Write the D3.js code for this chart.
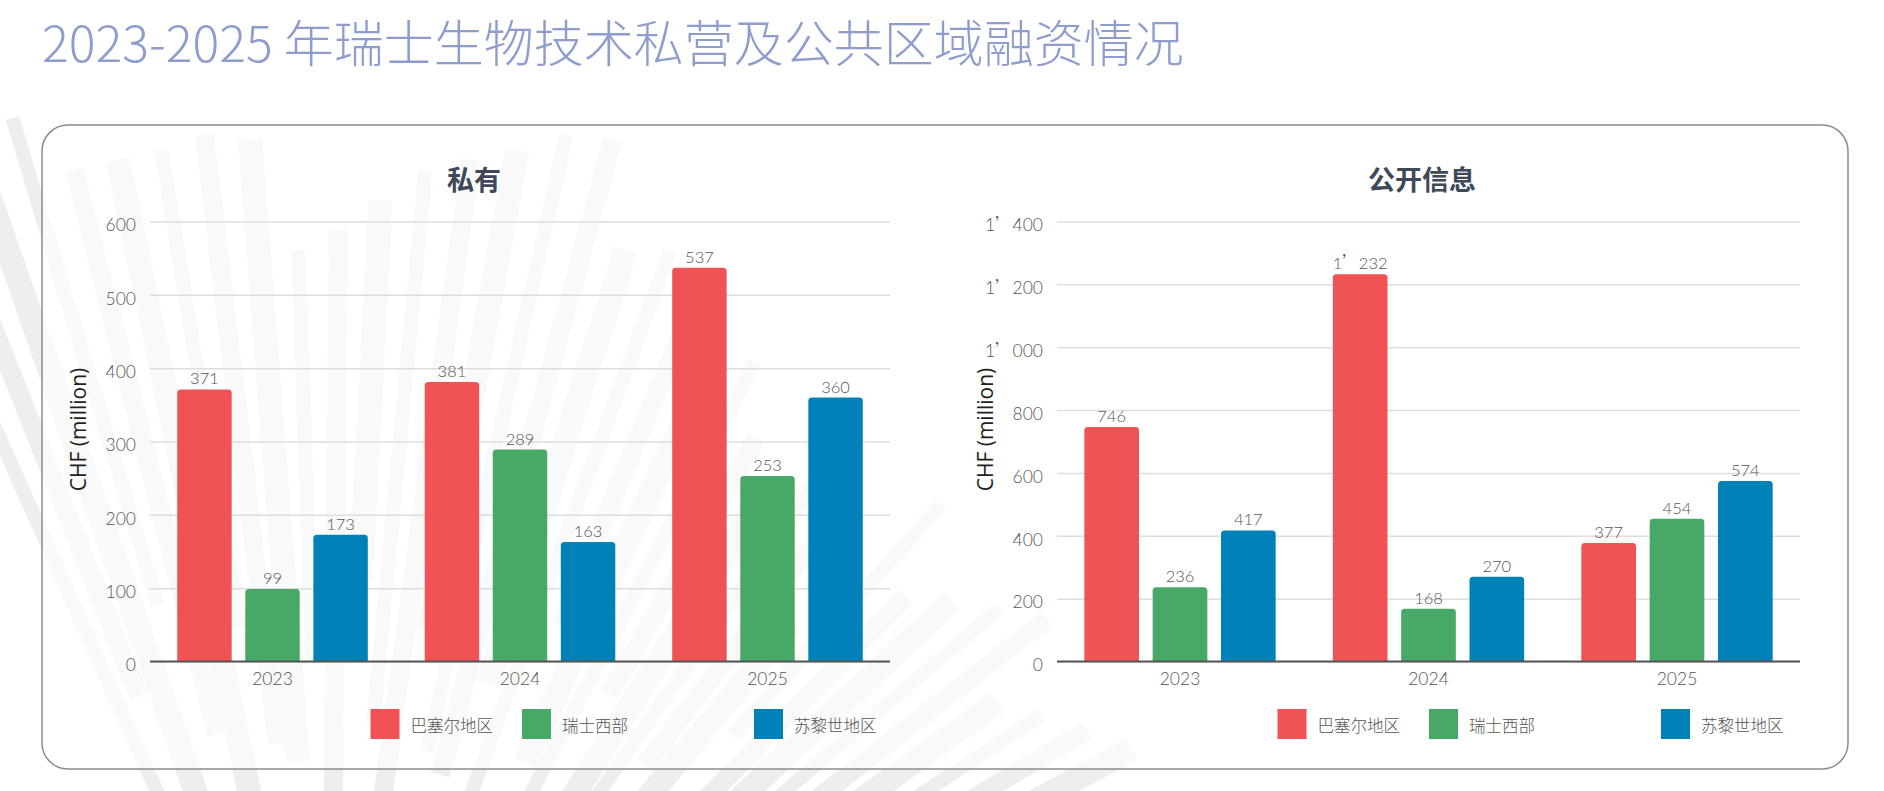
<!DOCTYPE html>
<html>
<head>
<meta charset="utf-8">
<script src="https://cdn.jsdelivr.net/npm/d3@7"></script>
<style>
  html, body { margin: 0; padding: 0; background: #fff; }
  svg { display: block; }
</style>
</head>
<body>
<div id="chart"></div>
<script>
// Swiss biotech funding 2023-2025, private vs public, by region

const years = ["2023", "2024", "2025"];
const regions = ["巴塞尔地区", "瑞士西部", "苏黎世地区"];
const regionColors = ["#EF5356", "#48A867", "#0082B8"];

// private financing (CHF million), per year
const privateBasel = [371, 381, 537];
const privateWest = [99, 289, 253];
const privateZurich = [173, 163, 360];

// public financing (CHF million), per year
const publicBasel = [746, 1232, 377];
const publicWest = [236, 168, 454];
const publicZurich = [417, 270, 574];

const privateTicks = [0, 100, 200, 300, 400, 500, 600];
const publicTicks = [0, 200, 400, 600, 800, 1000, 1200, 1400];

const W = 1884, H = 791;
const LATO = "Lato, 'Noto Sans', sans-serif";
const CJK = "'Noto Sans CJK SC', 'Noto Sans', sans-serif";

// swiss style thousands: 1’232
const fmt = d3.formatLocale({ decimal: ".", thousands: "’", grouping: [3], currency: ["", ""] }).format(",d");

// writes "1’232" with the apostrophe in the CJK font (full width, like the original)
function numText(sel, v) {
  const parts = fmt(v).split("’");
  sel.text(null);
  parts.forEach((p, i) => {
    if (i > 0) sel.append("tspan").style("font-family", CJK).text("’");
    sel.append("tspan").text(p);
  });
}

const svg = d3.select("#chart").append("svg")
  .attr("width", W).attr("height", H)
  .attr("viewBox", `0 0 ${W} ${H}`);

// decorative fan of pale stripes behind the card
const bg = svg.append("g");
const fanCx = 330, fanCy = 1180;
const stripeInner = [420, 520, 360, 600, 460, 380, 560, 440];
const stripeTop = [140, 200, 150, 250, 170, 135, 230, 160];
for (let i = 0; i < 36; i++) {
  const deg = -24 + i * 2.45;
  const a = deg * Math.PI / 180;
  const r0 = stripeInner[i % 8];
  let r1;
  if (deg < -15) r1 = (fanCy - 118) / Math.cos(a);
  else if (deg <= 20) r1 = (fanCy - stripeTop[(i * 3) % 8]) / Math.cos(a);
  else if (deg <= 40) r1 = (fanCy - 250 - (deg - 20) * 15 - (i % 3) * 40) / Math.cos(a);
  else r1 = 820 + (i % 4) * 30;
  if (r1 <= r0 + 40) continue;
  bg.append("line")
    .attr("x1", fanCx + r0 * Math.sin(a)).attr("y1", fanCy - r0 * Math.cos(a))
    .attr("x2", fanCx + r1 * Math.sin(a)).attr("y2", fanCy - r1 * Math.cos(a))
    .attr("stroke", "#eeeeee")
    .attr("stroke-width", 14 + (i % 3) * 5);
}

// main title
svg.append("text")
  .attr("x", 42).attr("y", 62)
  .style("font-family", CJK)
  .style("font-weight", 300)
  .style("font-size", "50px")
  .style("fill", "#8E9DCD")
  .text("2023-2025 年瑞士生物技术私营及公共区域融资情况");

// card
svg.append("rect")
  .attr("x", 42).attr("y", 125)
  .attr("width", 1806).attr("height", 644)
  .attr("rx", 26).attr("ry", 26)
  .attr("fill", "rgba(255,255,255,0.62)")
  .attr("stroke", "#8c8c8c")
  .attr("stroke-width", 1.5);

// bar with rounded top corners
function barPath(x, y, w, h, r) {
  r = Math.min(r, h, w / 2);
  return `M${x},${y + h}V${y + r}Q${x},${y} ${x + r},${y}H${x + w - r}Q${x + w},${y} ${x + w},${y + r}V${y + h}Z`;
}

function drawPanel({ title, titleX, left, right, ticks, series }) {
  const g = svg.append("g");
  const yTop = 221.5, yBottom = 661.5;

  const x0 = d3.scaleBand().domain(years).range([left, right]).paddingInner(0.23).paddingOuter(0.11);
  const x1 = d3.scaleBand().domain(regions).range([0, x0.bandwidth()]).paddingInner(0.2);
  const y = d3.scaleLinear().domain([0, d3.max(ticks)]).range([yBottom, yTop]);

  // panel title
  g.append("text")
    .attr("x", titleX).attr("y", 190)
    .attr("text-anchor", "middle")
    .style("font-family", CJK)
    .style("font-weight", 700)
    .style("font-size", "27px")
    .style("fill", "#3E4859")
    .text(title);

  // y axis + gridlines
  const yAxisG = g.append("g")
    .attr("transform", `translate(${left},0)`)
    .call(d3.axisLeft(y).tickValues(ticks).tickSize(-(right - left)).tickPadding(14).tickFormat(""));
  yAxisG.select(".domain").remove();
  yAxisG.selectAll(".tick line").attr("stroke", "#dedede").attr("stroke-width", 1.5);
  yAxisG.selectAll(".tick text")
    .attr("dy", "0.53em")
    .style("font-family", LATO)
    .style("font-weight", 300)
    .style("font-size", "17.5px")
    .style("fill", "#555")
    .each(function (d) { numText(d3.select(this), d); });

  // y title
  g.append("text")
    .attr("transform", `translate(${left - 71},${(yTop + yBottom) / 2 - 12}) rotate(-90)`)
    .attr("text-anchor", "middle")
    .attr("dy", "0.35em")
    .style("font-family", "'Open Sans', 'Noto Sans', sans-serif")
    .style("font-size", "21px")
    .style("fill", "#1f1f1f")
    .text("CHF (million)");

  // bars
  const rows = years.map((yr, i) => ({ year: yr, vals: series.map((s, j) => ({ region: regions[j], color: regionColors[j], v: s[i] })) }));
  const groups = g.selectAll("g.year").data(rows).join("g")
    .attr("class", "year")
    .attr("transform", d => `translate(${x0(d.year)},0)`);

  groups.selectAll("path").data(d => d.vals).join("path")
    .attr("d", d => barPath(x1(d.region), y(d.v), x1.bandwidth(), y(0) - y(d.v), 3.5))
    .attr("fill", d => d.color);

  groups.selectAll("text.val").data(d => d.vals).join("text")
    .attr("class", "val")
    .attr("x", d => x1(d.region) + x1.bandwidth() / 2)
    .attr("y", d => y(d.v) - 5)
    .attr("text-anchor", "middle")
    .style("font-family", LATO)
    .style("font-weight", 300)
    .style("font-size", "16.5px")
    .style("fill", "#555")
    .each(function (d) { numText(d3.select(this), d.v); });

  // x axis
  const xAxisG = g.append("g")
    .attr("transform", `translate(0,${yBottom})`)
    .call(d3.axisBottom(x0).tickSize(0).tickPadding(11));
  xAxisG.select(".domain").remove();
  xAxisG.selectAll(".tick text")
    .style("font-family", LATO)
    .style("font-weight", 300)
    .style("font-size", "17.5px")
    .style("fill", "#555");

  g.append("line")
    .attr("x1", left).attr("x2", right)
    .attr("y1", y(0)).attr("y2", y(0))
    .attr("stroke", "#555").attr("stroke-width", 2);

  // legend
  const legendOffsets = [220.5, 372, 604];
  const leg = g.selectAll("g.leg").data(regions).join("g")
    .attr("class", "leg")
    .attr("transform", (d, i) => `translate(${left + legendOffsets[i]},709)`);
  leg.append("rect")
    .attr("width", 29).attr("height", 30)
    .attr("fill", (d, i) => regionColors[i]);
  leg.append("text")
    .attr("x", 40).attr("y", 17)
    .attr("dy", "0.35em")
    .style("font-family", CJK)
    .style("font-weight", 300)
    .style("font-size", "16.5px")
    .style("fill", "#555")
    .text(d => d);
}

drawPanel({
  title: "私有", titleX: 474, left: 150, right: 890,
  ticks: privateTicks,
  series: [privateBasel, privateWest, privateZurich]
});

drawPanel({
  title: "公开信息", titleX: 1422, left: 1057, right: 1800,
  ticks: publicTicks,
  series: [publicBasel, publicWest, publicZurich]
});
</script>
</body>
</html>
